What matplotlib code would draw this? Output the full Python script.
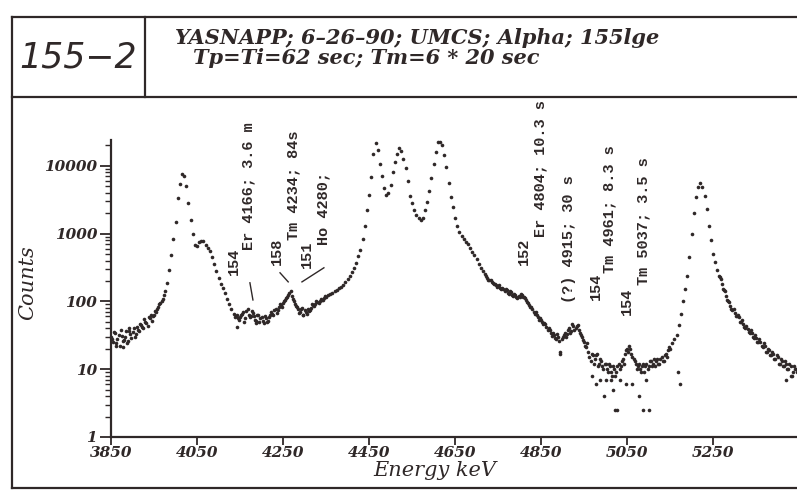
import numpy as np
import matplotlib
matplotlib.use("Agg")
import matplotlib.pyplot as plt
from matplotlib.ticker import LogLocator, NullFormatter, FixedLocator, FixedFormatter

# ---------------- data ----------------
energy_start, energy_step = 3850, 5          # keV, channel grid
counts = [
    30, 25, 34, 28, 22, 31, 27, 36, 26, 33,            # 3850
    35, 30, 42, 36, 45, 40, 50, 44, 57, 52,            # 3900
    62, 70, 82, 95, 110, 140, 185, 290, 480, 820,      # 3950
    1500, 3300, 5300, 7600, 7000, 5000, 2800, 1600, 1000, 680,  # 4000
    660, 750, 780, 770, 690, 620, 560, 450, 350, 280,  # 4050
    225, 180, 155, 133, 110, 92, 78, 66, 60, 56,       # 4100
    58, 66, 50, 72, 64, 60, 68, 54, 62, 50,            # 4150
    58, 48, 56, 52, 62, 66, 74, 68, 82, 88,            # 4200
    96, 104, 118, 132, 120, 100, 86, 78, 70, 80,       # 4250
    74, 66, 72, 80, 88, 92, 97, 100, 106, 112,         # 4300
    118, 124, 128, 133, 140, 146, 155, 165, 175, 195,  # 4350
    215, 240, 275, 310, 370, 460, 580, 820, 1300, 2200,  # 4400
    3700, 6800, 15000, 22000, 17000, 10500, 7000, 4700, 3700, 4000,  # 4450
    5200, 8000, 11500, 15000, 18000, 16500, 12500, 9200, 6000, 3600,  # 4500
    2800, 2200, 1900, 1700, 1600, 1700, 2200, 2900, 4300, 6500,  # 4550
    10500, 16000, 22500, 22500, 20000, 14500, 9500, 5600, 3500, 2500,  # 4600
    1700, 1300, 1050, 920, 830, 760, 700, 620, 540, 480,  # 4650
    420, 360, 310, 280, 250, 220, 205, 195, 180, 175,  # 4700
    168, 155, 158, 140, 145, 128, 136, 122, 124, 112,  # 4750
    118, 126, 118, 104, 94, 82, 78, 66, 64, 54,        # 4800
    54, 46, 46, 38, 38, 31, 32, 28, 30, 18,            # 4850
    30, 34, 33, 40, 36, 44, 40, 45, 34, 30,            # 4900
    25, 21, 18, 13, 16, 14, 17, 12, 13, 10,            # 4950
    12, 9, 11, 8, 10, 9, 12, 11, 14, 17,               # 5000
    20, 22, 17, 14, 12, 11, 10, 11, 9, 12,             # 5050
    11, 13, 12, 11, 14, 12, 15, 13, 17, 19,            # 5100
    20, 24, 28, 32, 45, 65, 100, 150, 240, 450,        # 5150
    1000, 2000, 3500, 4800, 5600, 4800, 3600, 2300, 1300, 800,  # 5200
    500, 380, 290, 230, 180, 145, 120, 100, 85, 75,    # 5250
    68, 60, 58, 50, 47, 40, 39, 34, 34, 29,            # 5300
    29, 25, 25, 21, 22, 18, 19, 16, 17, 14,            # 5350
    15, 12, 13, 11, 12, 10, 11, 9, 10, 9,              # 5400
]
energy = energy_start + energy_step * np.arange(len(counts))

# second scatter points in the noisy stretches (half-channel offset)
band_a_start = 3852.5
band_a = [28, 35, 24, 32, 38, 26, 30, 24, 37, 29, 40, 33, 38, 47, 42, 55, 48, 58,
          64, 60, 72, 76, 90, 100, 125]
band_b_start = 4137.5
band_b = [58, 64, 54, 62, 70, 56, 78, 58, 72, 60, 52, 64, 56, 52, 60, 50, 58, 70,
          62, 78, 74, 90, 84, 100, 112, 124, 140, 110, 92, 82, 68, 76, 64, 70, 76,
          74, 92, 86, 100, 96, 108, 104, 120]
band_c_start = 4722.5
band_c = [240, 210, 206, 185, 182, 165,
          172, 150, 150, 150, 132, 140, 124, 130, 116, 122,
          128, 116, 112, 98, 88, 84, 70, 70, 58, 56,
          50, 48, 42, 40, 34, 34, 29, 33, 26, 28,
          32, 30, 38, 34, 46, 38, 44, 38, 32, 27,
          22, 24, 15, 17, 12, 16, 11, 14, 11, 12,
          10, 12, 9, 11, 8, 11, 10, 13, 12, 19,
          18, 20, 15, 13, 10, 12, 9, 12, 11, 10,
          13, 11, 14, 13, 12, 14, 13, 16, 15, 21]
band_d_start = 5262.5
band_d = [240, 215, 150, 140, 104, 98, 78, 76,
          60, 64, 50, 54, 42, 44, 35, 38, 30, 32,
          25, 28, 22, 24, 18, 20, 16, 18, 14, 16,
          12, 14, 11, 13, 10, 12, 8, 11, 10]

# isolated low / stray points
outlier_energy = [3862, 3878, 3893, 4142, 4188, 4297, 4893, 4968, 4978, 4987,
                  4996, 5002, 5012, 5018, 5022, 5027, 5033, 5048, 5062, 5078,
                  5086, 5093, 5102, 5168, 5172, 5420, 5430]
outlier_counts = [22, 21, 40, 42, 48, 62, 17, 8, 6, 7,
                  4, 7, 7, 5, 2.5, 2.5, 7, 6, 6, 4,
                  2.5, 7, 2.5, 9, 6, 7, 8]

x_ticks = [3850, 4050, 4250, 4450, 4650, 4850, 5050, 5250]
y_ticks = [1, 10, 100, 1000, 10000]
y_tick_labels = ["1", "10", "100", "1000", "10000"]

# rotated peak annotations: (text, energy, counts at text start)
annotations = [
    ("154", 4136, 246),
    ("Er 4166; 3.6 m", 4169, 576),
    ("158", 4236, 346),
    ("Tm 4234; 84s", 4273, 809),
    ("151", 4306, 313),
    ("Ho 4280;", 4343, 682),
    ("152", 4810, 346),
    ("Er 4804; 10.3 s", 4848, 895),
    ("(?) 4915; 30 s", 4915, 95),
    ("154", 4978, 105),
    ("Tm 4961; 8.3 s", 5008, 264),
    ("154", 5050, 63),
    ("Tm 5037; 3.5 s", 5087, 175),
]
# leader lines: (E1, C1, E2, C2)
leaders = [
    (4173, 188, 4180, 105),
    (4243, 264, 4262, 194),
    (4294, 194, 4345, 313),
]

title_box = "155−2"
title_line1 = "YASNAPP; 6–26–90; UMCS; Alpha; 155lge"
title_line2 = "Tp=Ti=62 sec; Tm=6 * 20 sec"
x_label = "Energy keV"
y_label = "Counts"

# ---------------- drawing ----------------
ink = "#2f2828"
W, H = 797, 491
fig = plt.figure(figsize=(W / 100, H / 100), dpi=100)
fig.patch.set_facecolor("white")

def fx(px):
    return px / W

def fy(py):
    return 1 - py / H

# frame of the scanned sheet
frame_lw = 1.6
fig.add_artist(plt.Line2D([fx(12), 1.0], [fy(17), fy(17)], color=ink, lw=frame_lw))
fig.add_artist(plt.Line2D([fx(12), 1.0], [fy(97), fy(97)], color=ink, lw=frame_lw))
fig.add_artist(plt.Line2D([fx(145), fx(145)], [fy(17), fy(97)], color=ink, lw=frame_lw))
fig.add_artist(plt.Line2D([fx(12), fx(12)], [fy(17), fy(488)], color=ink, lw=frame_lw))
fig.add_artist(plt.Line2D([fx(12), 1.0], [fy(488), fy(488)], color=ink, lw=frame_lw))

fig.text(fx(78), fy(57), title_box, fontsize=25, style="italic", family="DejaVu Sans",
         color=ink, ha="center", va="center")
fig.text(fx(175), fy(38), title_line1, fontsize=15, style="italic", weight="bold",
         family="DejaVu Serif", color=ink, ha="left", va="center")
fig.text(fx(193), fy(58), title_line2, fontsize=15, style="italic", weight="bold",
         family="DejaVu Serif", color=ink, ha="left", va="center")

ax_left, ax_bottom = fx(111), fy(437)
ax = fig.add_axes([ax_left, ax_bottom, 1.0 - ax_left, fy(140) - ax_bottom])
ax.set_facecolor("none")
ax.set_yscale("log")
ax.set_xlim(3850, 5445)
ax.set_ylim(1, 24000)

dot = dict(linestyle="none", marker="o", markersize=2.6, color=ink,
           markeredgewidth=0, clip_on=False)
ax.plot(energy, counts, **dot)
for start, vals in ((band_a_start, band_a), (band_b_start, band_b),
                    (band_c_start, band_c), (band_d_start, band_d)):
    ax.plot(start + energy_step * np.arange(len(vals)), vals, **dot)
ax.plot(outlier_energy, outlier_counts, **dot)

for txt, e, c in annotations:
    ax.text(e, c, txt, rotation=90, ha="center", va="bottom", fontsize=11,
            family="Liberation Mono", weight="bold", color=ink)
for e1, c1, e2, c2 in leaders:
    ax.plot([e1, e2], [c1, c2], color=ink, lw=1.0)

for s in ("top", "right"):
    ax.spines[s].set_visible(False)
for s in ("left", "bottom"):
    ax.spines[s].set_color(ink)
    ax.spines[s].set_linewidth(1.6)

ax.xaxis.set_major_locator(FixedLocator(x_ticks))
ax.set_xticklabels([str(v) for v in x_ticks])
ax.yaxis.set_major_locator(FixedLocator(y_ticks))
ax.yaxis.set_major_formatter(FixedFormatter(y_tick_labels))
ax.yaxis.set_minor_locator(LogLocator(base=10, subs=np.arange(2, 10)))
ax.yaxis.set_minor_formatter(NullFormatter())

ax.tick_params(axis="x", which="major", direction="out", length=6, width=1.3,
               color=ink, pad=0.5)
ax.tick_params(axis="y", which="major", direction="out", length=8, width=1.3,
               color=ink, pad=2)
ax.tick_params(axis="y", which="minor", direction="out", length=4, width=1.0, color=ink)
for lab in ax.get_xticklabels() + ax.get_yticklabels():
    lab.set_family("DejaVu Serif")
    lab.set_style("italic")
    lab.set_weight("bold")
    lab.set_fontsize(11)
    lab.set_color(ink)

fig.text(fx(28), fy(283), y_label, rotation=90, fontsize=15, style="italic",
         family="DejaVu Serif", color=ink, ha="center", va="center")
fig.text(fx(435), fy(471), x_label, fontsize=15, style="italic",
         family="DejaVu Serif", color=ink, ha="center", va="center")

fig.savefig("out.png", dpi=100, facecolor="white")
